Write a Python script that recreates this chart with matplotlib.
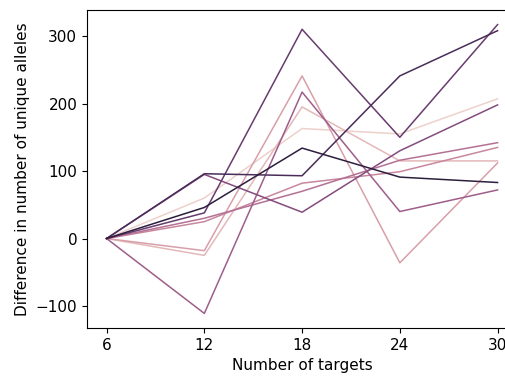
import matplotlib
matplotlib.use("Agg")
import matplotlib.pyplot as plt
import seaborn as sns

# number of targets on the x axis
targets = [6, 12, 18, 24, 30]

# one series per run, ordered light -> dark as in the hue palette
run_1 = [0, 60, 163, 155, 207]
run_2 = [0, -25, 195, 115, 115]
run_3 = [0, -18, 241, -36, 112]
run_4 = [0, 25, 82, 99, 135]
run_5 = [0, 30, 70, 116, 142]
run_6 = [0, -111, 217, 40, 72]
run_7 = [0, 95, 39, 130, 198]
run_8 = [0, 38, 310, 150, 317]
run_9 = [0, 96, 93, 241, 308]
run_10 = [0, 46, 134, 91, 83]

runs = [run_1, run_2, run_3, run_4, run_5, run_6, run_7, run_8, run_9, run_10]

plt.rcParams['font.family'] = ['DejaVu Sans']
plt.rcParams['font.size'] = 11

colors = sns.cubehelix_palette(len(runs))

fig = plt.figure(figsize=(5.06, 3.76), dpi=100)
ax = fig.add_axes([0.172, 0.128, 0.85, 0.845])

for vals, c in zip(runs, colors):
    ax.plot(targets, vals, color=c, linewidth=1.1)

ax.set_xticks(targets)
ax.set_yticks([-100, 0, 100, 200, 300])
ax.set_xlim(4.8, 31.2)
ax.set_ylim(-132.4, 338.4)
ax.set_xlabel('Number of targets')
ax.set_ylabel('Difference in number of unique alleles')
ax.spines['right'].set_visible(False)

fig.savefig('out.png', dpi=100)
